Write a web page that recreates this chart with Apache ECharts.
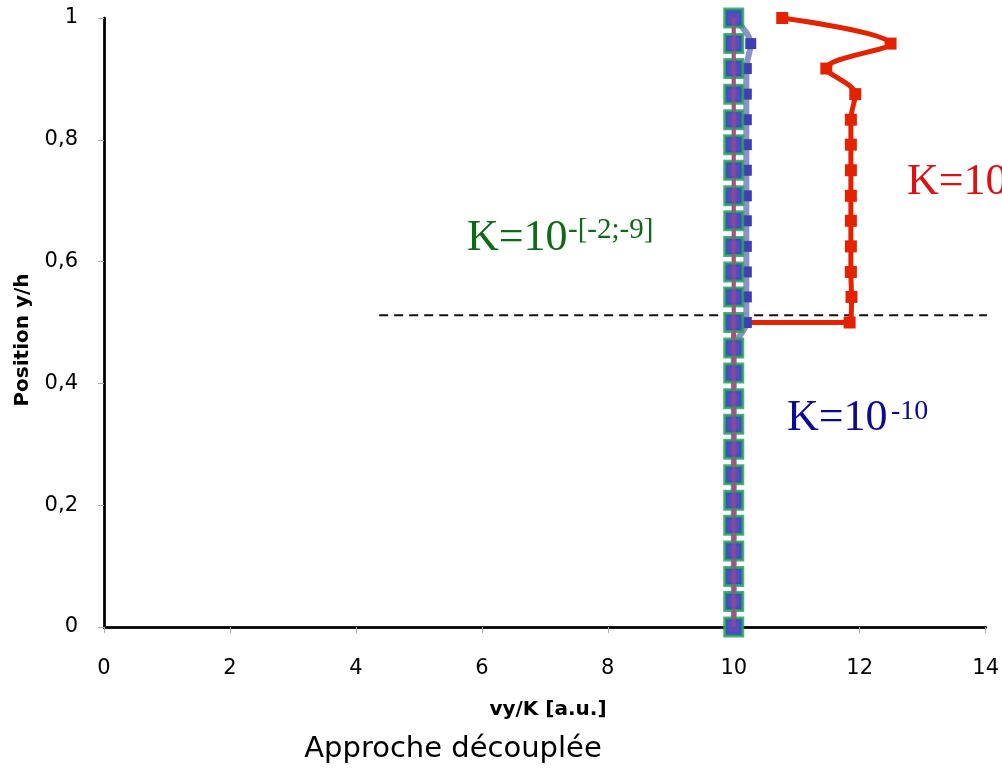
<!DOCTYPE html>
<html>
<head>
<meta charset="utf-8">
<script src="https://cdn.jsdelivr.net/npm/echarts@6/dist/echarts.min.js"></script>
<style>
  html, body { margin: 0; padding: 0; background: #fff; }
  #chart { width: 1002px; height: 769px; }
</style>
</head>
<body>
<div id="chart"></div>
<script>
// Normalised position across the layer (y/h)
const positions = [0, 0.042, 0.083, 0.125, 0.167, 0.208, 0.25, 0.292, 0.333, 0.375, 0.417, 0.458,
  0.5, 0.542, 0.583, 0.625, 0.667, 0.708, 0.75, 0.792, 0.833, 0.875, 0.917, 0.958, 1];
// The low-permeability profile carries the interface node twice (both sides of the jump)
const positionsLow = [0, 0.042, 0.083, 0.125, 0.167, 0.208, 0.25, 0.292, 0.333, 0.375, 0.417, 0.458,
  0.5, 0.5, 0.542, 0.583, 0.625, 0.667, 0.708, 0.75, 0.792, 0.833, 0.875, 0.917, 0.958, 1];

// vy/K profiles for each permeability case
const vyKRange = [10, 10, 10, 10, 10, 10, 10, 10, 10, 10, 10, 10,
  10, 10, 10, 10, 10, 10, 10, 10, 10, 10, 10, 10, 10];          // K = 10^[-2;-9]
const vyK10 = [10, 10, 10, 10, 10, 10, 10, 10, 10, 10, 10, 10,
  10.2, 10.2, 10.2, 10.2, 10.2, 10.2, 10.2, 10.2, 10.2, 10.2, 10.2, 10.27, 10];  // K = 10^-10
const vyKLow = [10, 10, 10, 10, 10, 10, 10, 10, 10, 10, 10, 10,
  10, 11.84, 11.87, 11.86, 11.86, 11.86, 11.86, 11.86, 11.86, 11.86, 11.93, 11.47, 12.49, 10.77]; // K = 10^-1x

// Interface marker (dashed)
const interfaceX = [4.37, 16];
const interfaceY = 0.512;

const xTicks = [0, 14, 2];
const yTicks = [0, 1, 0.2];

const pairs = (xs, ys) => xs.map((v, i) => [v, ys[i]]);

const chart = echarts.init(document.getElementById('chart'), null, { renderer: 'canvas' });

const sans = '"DejaVu Sans", Verdana, sans-serif';
const serif = '"Liberation Serif", "Times New Roman", serif';

chart.setOption({
  animation: false,
  backgroundColor: '#ffffff',
  grid: { left: 104, right: 16, top: 18, bottom: 142, containLabel: false },
  xAxis: [{
    type: 'value', min: xTicks[0], max: xTicks[1], interval: xTicks[2],
    position: 'bottom',
    axisLine: { show: true, lineStyle: { color: '#505050', width: 2.5 } },
    axisTick: { show: true, length: 6, lineStyle: { color: '#aaa', width: 1 } },
    axisLabel: { margin: 31, fontFamily: sans, fontSize: 21, color: '#000' },
    splitLine: { show: false }
  }, {
    type: 'value', min: xTicks[0], max: xTicks[1], position: 'top',
    axisLine: { show: true, lineStyle: { color: '#000', width: 2.5 } },
    axisTick: { show: false }, axisLabel: { show: false }, splitLine: { show: false }
  }],
  yAxis: [{
    type: 'value', min: yTicks[0], max: yTicks[1], interval: yTicks[2],
    position: 'left',
    axisLine: { show: true, lineStyle: { color: '#505050', width: 2.5 } },
    axisTick: { show: true, length: 6, lineStyle: { color: '#aaa', width: 1 } },
    axisLabel: {
      margin: 26, fontFamily: sans, fontSize: 21, color: '#000',
      formatter: v => String(+v.toFixed(1)).replace('.', ',')
    },
    splitLine: { show: false }
  }, {
    type: 'value', min: yTicks[0], max: yTicks[1], position: 'right',
    axisLine: { show: true, lineStyle: { color: '#000', width: 2.5 } },
    axisTick: { show: false }, axisLabel: { show: false }, splitLine: { show: false }
  }],
  series: [
    {
      name: 'interface', type: 'line', clip: false, z: 1, silent: true,
      data: [[interfaceX[0], interfaceY], [interfaceX[1], interfaceY]],
      symbol: 'none',
      lineStyle: { color: '#111', width: 2, type: [9, 6] }
    },
    {
      name: 'K=10^-1x', type: 'line', z: 2, smooth: 0.35,
      data: pairs(vyKLow, positionsLow),
      symbol: 'rect', symbolSize: 12,
      itemStyle: { color: '#e42200' },
      lineStyle: { color: '#e42200', width: 5 }
    },
    {
      name: 'K=10^-10', type: 'line', z: 3, smooth: 0.35,
      data: pairs(vyK10, positions),
      symbol: 'rect', symbolSize: 11,
      itemStyle: { color: '#3f3fb3' },
      lineStyle: { color: '#8a94c4', width: 6 }
    },
    {
      name: 'K=10^[-2;-9]', type: 'line', z: 4,
      data: pairs(vyKRange, positions),
      symbol: 'rect', symbolSize: 18,
      itemStyle: { color: '#2b5c86', borderColor: 'rgba(46,160,104,0.85)', borderWidth: 3 },
      lineStyle: { color: '#a8507a', width: 4 }
    },
    {
      name: 'K=10^[-2;-9] inner', type: 'line', z: 5,
      data: pairs(vyKRange, positions),
      symbol: 'rect', symbolSize: 12,
      itemStyle: { color: 'rgba(110,70,200,0.75)', borderColor: '#4646e2', borderWidth: 1.5 },
      lineStyle: { width: 0, opacity: 0 }
    },
    {
      name: 'K=10^[-2;-9] core', type: 'line', z: 6, symbol: 'none',
      data: pairs(vyKRange, positions),
      lineStyle: { color: 'rgba(168,80,122,0.55)', width: 4 }
    }
  ],
  graphic: [
    { type: 'text', x: 467, y: 238, z: 0, style: { text: 'K=10', font: '44px ' + serif, fill: '#0c6b14', align: 'left', verticalAlign: 'middle' } },
    { type: 'text', x: 568, y: 230, z: 0, style: { text: '-[-2;-9]', font: '29px ' + serif, fill: '#0c6b14', align: 'left', verticalAlign: 'middle' } },
    { type: 'text', x: 787, y: 418, z: 0, style: { text: 'K=10', font: '44px ' + serif, fill: '#0a0a96', align: 'left', verticalAlign: 'middle' } },
    { type: 'text', x: 891, y: 412, z: 0, style: { text: '-10', font: '28px ' + serif, fill: '#0a0a96', align: 'left', verticalAlign: 'middle' } },
    { type: 'text', x: 907, y: 182, z: -1, style: { text: 'K=10', font: '44px ' + serif, fill: '#e01010', align: 'left', verticalAlign: 'middle' } },
    // axis titles
    { type: 'text', x: 548, y: 710, style: { text: 'vy/K [a.u.]', font: 'bold 20px ' + sans, fill: '#000', align: 'center', verticalAlign: 'middle' } },
    { type: 'text', x: 23, y: 340, rotation: Math.PI / 2, style: { text: 'Position y/h', font: 'bold 20px ' + sans, fill: '#000', align: 'center', verticalAlign: 'middle' } },
    { type: 'text', x: 453, y: 749, style: { text: 'Approche découplée', font: '29px ' + sans, fill: '#000', align: 'center', verticalAlign: 'middle' } }
  ]
});
</script>
</body>
</html>
